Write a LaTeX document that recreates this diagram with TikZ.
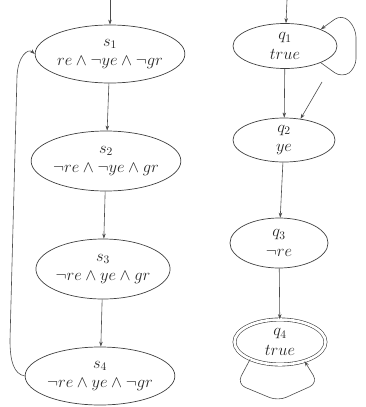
\documentclass[tikz,border=0pt]{standalone}
\usepackage{fix-cm}
\usepackage{amsmath}
\usepackage{amssymb}
\usetikzlibrary{arrows.meta,shapes.geometric}
\tikzset{%
  estado/.style 2 args={ellipse,draw=black!75,line width=0.7pt,text=black!85,inner sep=0pt,align=center,font=\fontsize{16.5}{19.5}\selectfont,minimum width=#1,minimum height=#2},
  aceita/.style={double=white,double distance=2.6pt,line width=0.6pt},
  conecta/.style={draw=black!70,line width=0.6pt,arrows=-{Stealth[length=5pt,width=3.5pt,inset=1.5pt]}},
  laco/.style={conecta,rounded corners=9pt}
}
\begin{document}
\begin{tikzpicture}[x=1pt,y=-1pt]
    \useasboundingbox (0,0) rectangle (366,407);
    \node[estado={134pt}{58pt}] (s1) at (110,54) {$s_1$\\$re \wedge \neg ye \wedge \neg gr$};
    \node[estado={134pt}{60pt}] (s2) at (106,161) {$s_2$\\$\neg re \wedge \neg ye \wedge gr$};
    \node[estado={133pt}{60pt}] (s3) at (103,269) {$s_3$\\$\neg re \wedge ye \wedge gr$};
    \node[estado={134pt}{58pt}] (s4) at (100,376) {$s_4$\\$\neg re \wedge ye \wedge \neg gr$};
    \node[estado={104pt}{45pt}] (q1) at (285,46) {$q_1$\\$true$};
    \node[estado={102pt}{44pt}] (q2) at (284,140) {$q_2$\\$ye$};
    \node[estado={98pt}{50pt}] (q3) at (279,243) {$q_3$\\$\neg re$};
    \node[estado={91pt}{45pt},aceita] (q4) at (280,342) {$q_4$\\$true$};
    \coordinate (inis) at (110,0);
    \coordinate (iniq) at (287,0);
    \coordinate (solto) at (322,82);
    \draw[conecta] (inis) -- (s1);
    \draw[conecta] (s1) -- (s2);
    \draw[conecta] (s2) -- (s3);
    \draw[conecta] (s3) -- (s4);
    \draw[conecta] (s4.west) .. controls (14,374) and (10,362) .. (10,340) -- (17,76) .. controls (18,56) and (28,48) .. (s1.west);
    \draw[conecta] (iniq) -- (q1);
    \draw[conecta] (q1) -- (q2);
    \draw[conecta] (q2) -- (q3);
    \draw[conecta] (q3) -- (q4);
    \draw[conecta] (solto) -- (q2.52);
    \draw[laco] (q1.-25) -- (342,78) -- (356,68) -- (356,28) -- (342,14) -- (q1.25);
    \draw[laco] (q4.-150) -- (237,384) -- (278,401) -- (318,383) -- (q4.-38);
  \end{tikzpicture}
\end{document}
